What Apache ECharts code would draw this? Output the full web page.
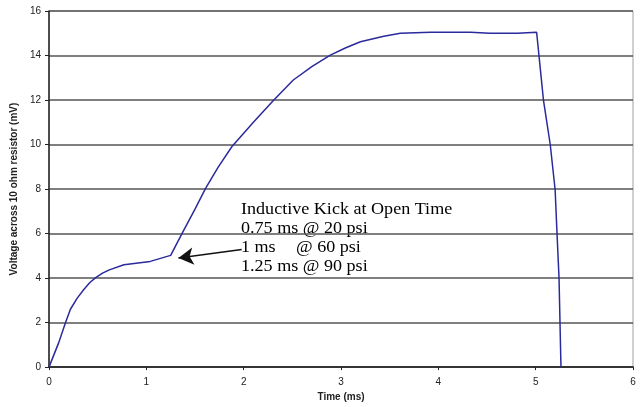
<!DOCTYPE html>
<html>
<head>
<meta charset="utf-8">
<script src="https://cdn.jsdelivr.net/npm/echarts@6/dist/echarts.min.js"></script>
<style>
  html, body { margin: 0; padding: 0; background: #fff; }
  #chart { width: 641px; height: 407px; }
</style>
</head>
<body>
<div id="chart"></div>
<script>
// time (ms) and voltage (mV)
var timeMs = [0, 0.1, 0.17, 0.22, 0.29, 0.36, 0.42, 0.48, 0.55, 0.62, 0.77, 1.04, 1.25, 1.37, 1.5, 1.61, 1.74, 1.88, 2.1, 2.31, 2.51, 2.7, 2.89, 3.05, 3.2, 3.44, 3.61, 3.92, 4.33, 4.53, 4.81, 5.01, 5.08, 5.15, 5.2, 5.22, 5.24, 5.26];
var voltage = [0, 1.1, 2.0, 2.6, 3.1, 3.5, 3.8, 4.02, 4.22, 4.37, 4.6, 4.75, 5.02, 6.03, 7.1, 8.04, 9.0, 9.91, 11.0, 12.0, 12.9, 13.5, 14.02, 14.35, 14.62, 14.87, 15.0, 15.04, 15.04, 15.0, 15.0, 15.04, 12.0, 9.99, 7.97, 5.95, 4.0, 0];
var noteLines = ['Inductive Kick at Open Time', '0.75 ms @ 20 psi', '1 ms', '1.25 ms @ 90 psi'];
var arrowFrom = [1.98, 5.28];
var arrowTo = [1.33, 4.9];

var myChart = echarts.init(document.getElementById('chart'));
var pts = timeMs.map(function(t, i) { return [t, voltage[i]]; });

function note(txt, x, y) {
    return {
        type: 'text', x: x, y: y, scaleX: 1.13,
        style: { text: txt, fontFamily: 'Liberation Serif', fontSize: 16, fill: '#000' }
    };
}

var option = {
    animation: false,
    grid: {
        left: 49, right: 8, top: 11, bottom: 39,
        show: true, borderColor: '#a0a0a0', borderWidth: 1
    },
    xAxis: {
        type: 'value', min: 0, max: 6, interval: 1,
        name: 'Time (ms)', nameLocation: 'middle', nameGap: 22,
        nameTextStyle: { fontFamily: 'Liberation Sans', fontWeight: 'bold', fontSize: 10, color: '#222' },
        axisLine: { lineStyle: { color: '#222', width: 1.5 } },
        axisTick: { length: 3, lineStyle: { color: '#222' } },
        axisLabel: { fontFamily: 'Liberation Sans', fontSize: 10, color: '#222', margin: 10 },
        splitLine: { show: false }
    },
    yAxis: {
        type: 'value', min: 0, max: 16, interval: 2,
        name: 'Voltage across 10 ohm resistor (mV)', nameLocation: 'middle', nameGap: 30,
        nameTextStyle: { fontFamily: 'Liberation Sans', fontWeight: 'bold', fontSize: 10, color: '#222' },
        axisLine: { lineStyle: { color: '#222', width: 1.5 } },
        axisTick: { show: true, length: 4, lineStyle: { color: '#222' } },
        axisLabel: { fontFamily: 'Liberation Sans', fontSize: 10, color: '#222', margin: 8 },
        splitLine: { lineStyle: { color: '#555', width: 1.5 } }
    },
    series: [{
        type: 'line',
        data: pts,
        symbol: 'none',
        lineStyle: { color: '#2a2a9c', width: 1.5 },
        markLine: {
            silent: true,
            symbol: ['none', 'arrow'],
            symbolSize: [13, 15],
            label: { show: false },
            lineStyle: { color: '#111', width: 1.5, type: 'solid' },
            data: [[{ coord: arrowFrom }, { coord: arrowTo }]]
        }
    }],
    graphic: [
        note(noteLines[0], 241, 202),
        note(noteLines[1], 241, 221),
        note(noteLines[2], 241, 240),
        note('@ 60 psi', 296, 240),
        note(noteLines[3], 241, 259)
    ]
};
myChart.setOption(option);
</script>
</body>
</html>
